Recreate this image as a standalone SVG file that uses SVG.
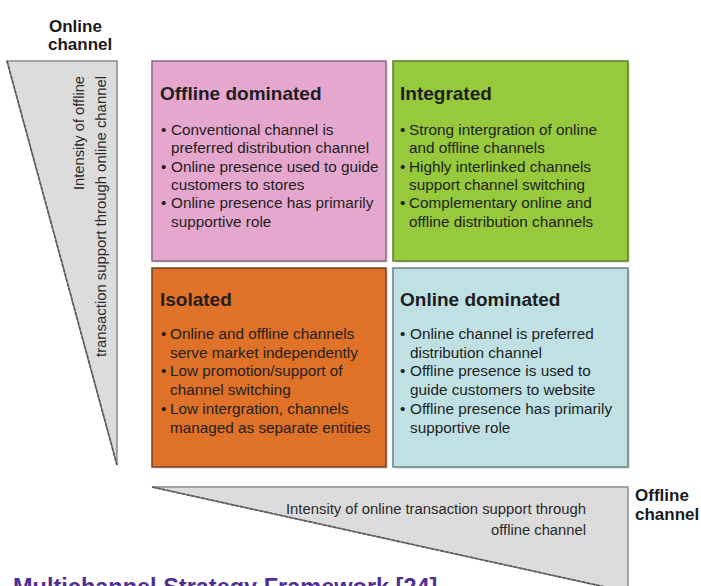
<svg xmlns="http://www.w3.org/2000/svg" width="701" height="586" viewBox="0 0 701 586">
  <style>
    text { font-family: "Liberation Sans", Arial, sans-serif; fill: #1e1e1e; }
    .head { font-size: 19px; font-weight: bold; }
    .body { font-size: 15.3px; }
    .axis-label { font-size: 15.5px; fill: #2a2a2a; }
    .corner { font-size: 17px; font-weight: bold; fill: #1a1a1a; }
    .wedge { fill: #dcdcdc; stroke: #8a8a8a; stroke-width: 1.5; }
    .wedge-edge { fill: none; stroke: #5a5a5a; stroke-width: 1.6; stroke-dasharray: 4 1; }
    .box { stroke-width: 1.5; }
    .shadow { fill: #000; opacity: 0.10; }
    .caption { font-size: 23.5px; font-weight: bold; fill: #4f2f96; }
  </style>

  <rect width="701" height="586" fill="#ffffff"/>

  <!-- vertical axis: online channel -->
  <g id="axis-online">
    <text class="corner" x="49" y="32">Online</text>
    <text class="corner" x="48" y="50">channel</text>
    <polygon class="wedge" points="7,61 117,61 117,465"/>
    <line class="wedge-edge" x1="7" y1="61" x2="117" y2="465"/>
    <text class="axis-label" transform="translate(84,76) rotate(-90)" text-anchor="end" textLength="114" lengthAdjust="spacingAndGlyphs">Intensity of offline</text>
    <text class="axis-label" transform="translate(106,76) rotate(-90)" text-anchor="end" textLength="281" lengthAdjust="spacingAndGlyphs">transaction support through online channel</text>
  </g>

  <!-- horizontal axis: offline channel -->
  <g id="axis-offline">
    <polygon class="wedge" points="152,487 628,487 628,592"/>
    <line class="wedge-edge" x1="152" y1="487" x2="628" y2="592"/>
    <text class="axis-label" x="586" y="514" text-anchor="end" textLength="300" lengthAdjust="spacingAndGlyphs">Intensity of online transaction support through</text>
    <text class="axis-label" x="586" y="535" text-anchor="end" textLength="95" lengthAdjust="spacingAndGlyphs">offline channel</text>
    <text class="corner" x="635" y="501">Offline</text>
    <text class="corner" x="635" y="520">channel</text>
  </g>

  <!-- quadrant: offline dominated -->
  <g id="offline-dominated">
    <rect class="shadow" x="154" y="63" width="234" height="200"/>
    <rect class="box" x="152" y="61" width="234" height="200" fill="#e5a7cd" stroke="#86687f"/>
    <text class="head" x="160" y="100">Offline dominated</text>
    <text class="body" x="161" y="135">•</text>
    <text class="body" x="171" y="135">Conventional channel is</text>
    <text class="body" x="171" y="153.3">preferred distribution channel</text>
    <text class="body" x="161" y="171.6">•</text>
    <text class="body" x="171" y="171.6">Online presence used to guide</text>
    <text class="body" x="171" y="189.9">customers to stores</text>
    <text class="body" x="161" y="208.2">•</text>
    <text class="body" x="171" y="208.2">Online presence has primarily</text>
    <text class="body" x="171" y="226.5">supportive role</text>
  </g>

  <!-- quadrant: integrated -->
  <g id="integrated">
    <rect class="shadow" x="395" y="63" width="235" height="200"/>
    <rect class="box" x="393" y="61" width="235" height="200" fill="#97c93c" stroke="#5c7b28"/>
    <text class="head" x="400" y="100">Integrated</text>
    <text class="body" x="400" y="135">•</text>
    <text class="body" x="409" y="135">Strong intergration of online</text>
    <text class="body" x="409" y="153.3">and offline channels</text>
    <text class="body" x="400" y="171.6">•</text>
    <text class="body" x="409" y="171.6">Highly interlinked channels</text>
    <text class="body" x="409" y="189.9">support channel switching</text>
    <text class="body" x="400" y="208.2">•</text>
    <text class="body" x="409" y="208.2">Complementary online and</text>
    <text class="body" x="409" y="226.5">offline distribution channels</text>
  </g>

  <!-- quadrant: isolated -->
  <g id="isolated">
    <rect class="shadow" x="154" y="270" width="234" height="199"/>
    <rect class="box" x="152" y="268" width="234" height="199" fill="#e07128" stroke="#6b4428"/>
    <text class="head" x="160" y="306">Isolated</text>
    <text class="body" x="161" y="339">•</text>
    <text class="body" x="170" y="339">Online and offline channels</text>
    <text class="body" x="170" y="357.7">serve market independently</text>
    <text class="body" x="161" y="376.4">•</text>
    <text class="body" x="170" y="376.4">Low promotion/support of</text>
    <text class="body" x="170" y="395.1">channel switching</text>
    <text class="body" x="161" y="413.8">•</text>
    <text class="body" x="170" y="413.8">Low intergration, channels</text>
    <text class="body" x="170" y="432.5">managed as separate entities</text>
  </g>

  <!-- quadrant: online dominated -->
  <g id="online-dominated">
    <rect class="shadow" x="395" y="270" width="235" height="199"/>
    <rect class="box" x="393" y="268" width="235" height="199" fill="#c0e1e4" stroke="#6e7d82"/>
    <text class="head" x="400" y="306">Online dominated</text>
    <text class="body" x="400" y="339">•</text>
    <text class="body" x="410" y="339">Online channel is preferred</text>
    <text class="body" x="410" y="357.7">distribution channel</text>
    <text class="body" x="400" y="376.4">•</text>
    <text class="body" x="410" y="376.4">Offline presence is used to</text>
    <text class="body" x="410" y="395.1">guide customers to website</text>
    <text class="body" x="400" y="413.8">•</text>
    <text class="body" x="410" y="413.8">Offline presence has primarily</text>
    <text class="body" x="410" y="432.5">supportive role</text>
  </g>

  <!-- figure caption, clipped by the lower edge -->
  <text class="caption" x="13" y="595">Multichannel Strategy Framework [24]</text>
</svg>
